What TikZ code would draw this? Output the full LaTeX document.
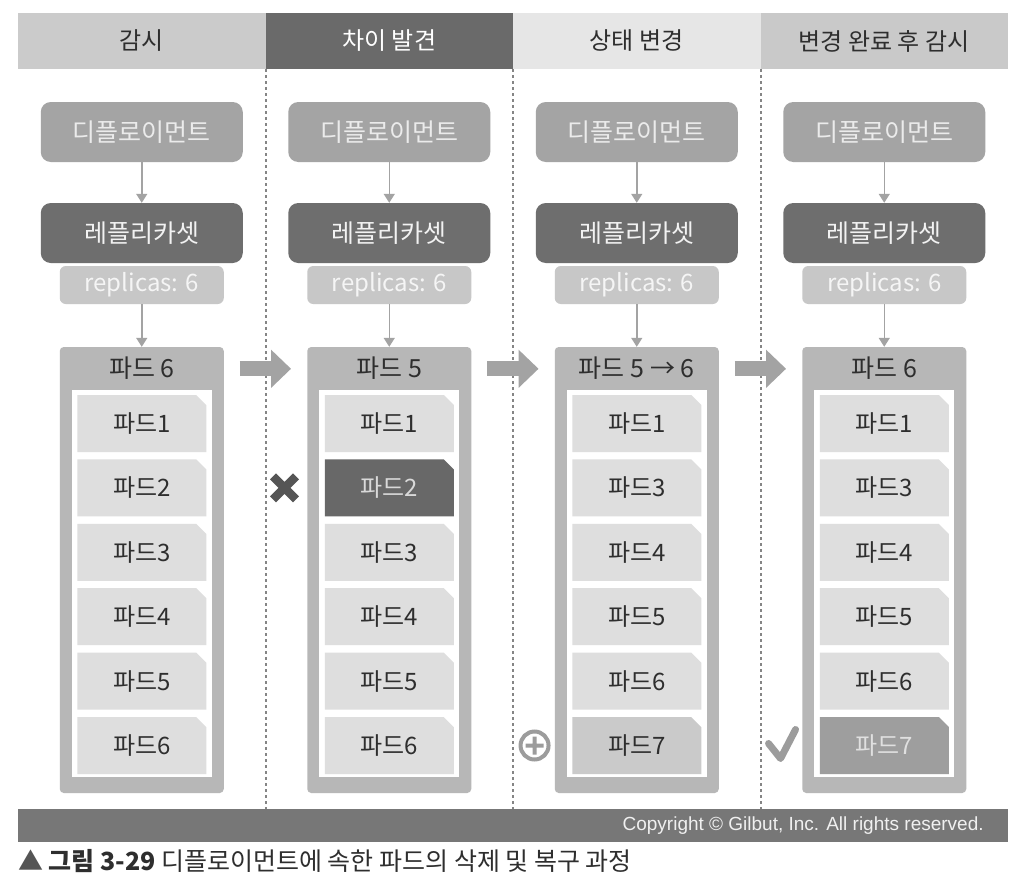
\documentclass[tikz,border=0pt]{standalone}
\usepackage{fontspec}
\setmainfont{Noto Sans CJK KR}
\newfontfamily\latinfont{Liberation Sans}
\usetikzlibrary{arrows.meta, shapes.misc}
\definecolor{hdone}{HTML}{CBCBCB}
\definecolor{hdtwo}{HTML}{6A6A6A}
\definecolor{hdthree}{HTML}{E6E6E6}
\definecolor{hdfour}{HTML}{C9C9C9}
\definecolor{depgray}{HTML}{A4A4A4}
\definecolor{rsgray}{HTML}{6E6E6E}
\definecolor{repgray}{HTML}{C7C7C7}
\definecolor{grpgray}{HTML}{B7B7B7}
\definecolor{podgray}{HTML}{DEDEDE}
\definecolor{poddark}{HTML}{686868}
\definecolor{podnew}{HTML}{CACACA}
\definecolor{podok}{HTML}{9E9E9E}
\definecolor{arrowgray}{HTML}{A3A3A3}
\definecolor{divgray}{HTML}{858585}
\definecolor{bargray}{HTML}{777777}
\definecolor{markdark}{HTML}{555555}
\definecolor{markgray}{HTML}{9C9C9C}
\definecolor{textdark}{HTML}{2E2E2E}
\tikzset{
  head/.style={minimum width=247.5pt, minimum height=56pt, inner sep=0pt, text=textdark, font=\fontsize{24}{28}\selectfont},
  depbox/.style={fill=depgray, rounded corners=10pt, minimum width=202pt, minimum height=60pt, inner sep=0pt, text=white!92!black, font=\fontsize{25}{29}\selectfont},
  rsbox/.style={depbox, fill=rsgray, text=white!95!black},
  repbox/.style={fill=repgray, rounded corners=6pt, minimum width=164pt, minimum height=38pt, inner sep=0pt, text=white!96!black, font=\fontsize{24}{28}\selectfont},
  grpbox/.style={fill=grpgray, rounded corners=4pt, minimum width=164pt, minimum height=446pt, inner sep=0pt},
  inbox/.style={fill=white, minimum width=140pt, minimum height=387pt, inner sep=0pt},
  grptitle/.style={text=textdark, inner sep=0pt, font=\fontsize{25}{29}\selectfont},
  pod/.style={chamfered rectangle, chamfered rectangle corners=north east, chamfered rectangle xsep=5pt, chamfered rectangle ysep=5pt,
    fill=podgray, minimum width=129pt, minimum height=57pt, inner sep=0pt, text=textdark, font=\fontsize{24}{28}\selectfont},
  sp 2-2/.style={fill=poddark, text=white!85!black},
  sp 3-6/.style={fill=podnew},
  sp 4-6/.style={fill=podok, text=white!88!black},
  link/.style={draw=arrowgray, line width=1.5pt, -{Triangle[length=9pt, width=11pt]}},
  bigarrow/.style={draw=arrowgray, line width=15pt, shorten <=16pt, shorten >=16pt, -{Triangle[length=20pt, width=37pt]}},
  divider/.style={draw=divgray, line width=1.6pt, dash pattern=on 3pt off 3pt},
}

\begin{document}
\begin{tikzpicture}[x=1pt, y=-1pt]
\useasboundingbox[fill=white] (0,0) rectangle (1020,886);
% header
\node[head, fill=hdone] (h1) at (141.75,41) {감시};
\node[head, fill=hdtwo, text=white] (h2) at (389.25,41) {차이 발견};
\node[head, fill=hdthree] (h3) at (636.75,41) {상태 변경};
\node[head, fill=hdfour] (h4) at (884.25,41) {변경 완료 후 감시};
% footer bar
\node[fill=bargray, minimum width=990pt, minimum height=33pt, inner sep=0pt] (bar) at (513,825.5) {};
\node[anchor=east, text=white!94!black, font=\latinfont\fontsize{19}{22}\selectfont] (copy) at ([xshift=-21pt]bar.east) {Copyright © Gilbut, Inc. All rights reserved.};
\foreach \a in {1,2,3}
  \draw[divider] (h\a.south east) -- (h\a.south east |- bar.north);
% columns
\foreach \c/\title/\nums in {1/파드 6/{1,2,3,4,5,6}, 2/파드 5/{1,2,3,4,5,6}, 3/파드 5 → 6/{1,3,4,5,6,7}, 4/파드 6/{1,3,4,5,6,7}} {
  \pgfmathsetmacro\cx{141.75+247.5*(\c-1)}
  \node[depbox] (dep\c) at (\cx,132) {디플로이먼트};
  \node[rsbox] (rs\c) at (\cx,233) {레플리카셋};
  \node[repbox] (rep\c) at (\cx,285) {replicas: 6};
  \node[grpbox] (grp\c) at (\cx,570) {};
  \node[inbox] (in\c) at (\cx,583.5) {};
  \node[grptitle] (t\c) at (\cx,368) {\title};
  \draw[link] (dep\c) -- (rs\c);
  \draw[link] (rep\c) -- (grp\c);
  \foreach \p [count=\k] in \nums
    \node[pod, sp \c-\k/.try] (pod\c-\k) at (\cx,{423.5+64.4*(\k-1)}) {파드\p};
}
\foreach \a/\b in {1/2,2/3,3/4}
  \draw[bigarrow] ([yshift=-22pt]grp\a.north east) -- ([yshift=-22pt]grp\b.north west);
% marks
\coordinate (xm) at ([xshift=-40pt]pod2-2.west);
\draw[markdark, line width=8.5pt] ([shift={(-11.5,-11.5)}]xm) -- ([shift={(11.5,11.5)}]xm)
  ([shift={(-11.5,11.5)}]xm) -- ([shift={(11.5,-11.5)}]xm);
\coordinate (pm) at ([xshift=-37.5pt]pod3-6.west);
\draw[markgray, line width=4pt] (pm) circle (14) ([xshift=-9pt]pm) -- ([xshift=9pt]pm) ([yshift=-9pt]pm) -- ([yshift=9pt]pm);
\coordinate (cm) at (pod4-6.west);
\draw[markgray, line width=7pt, line cap=round, line join=round] ([shift={(-51,-2)}]cm) -- ([shift={(-39,13)}]cm) -- ([shift={(-24,-16)}]cm);
% caption
\node[anchor=west, inner sep=0pt, font=\fontsize{25}{29}\selectfont, text=textdark] (cap) at (18,861)
  {{\color{markdark}▲} \textbf{그림 3-29} 디플로이먼트에 속한 파드의 삭제 및 복구 과정};
\end{tikzpicture}
\end{document}
